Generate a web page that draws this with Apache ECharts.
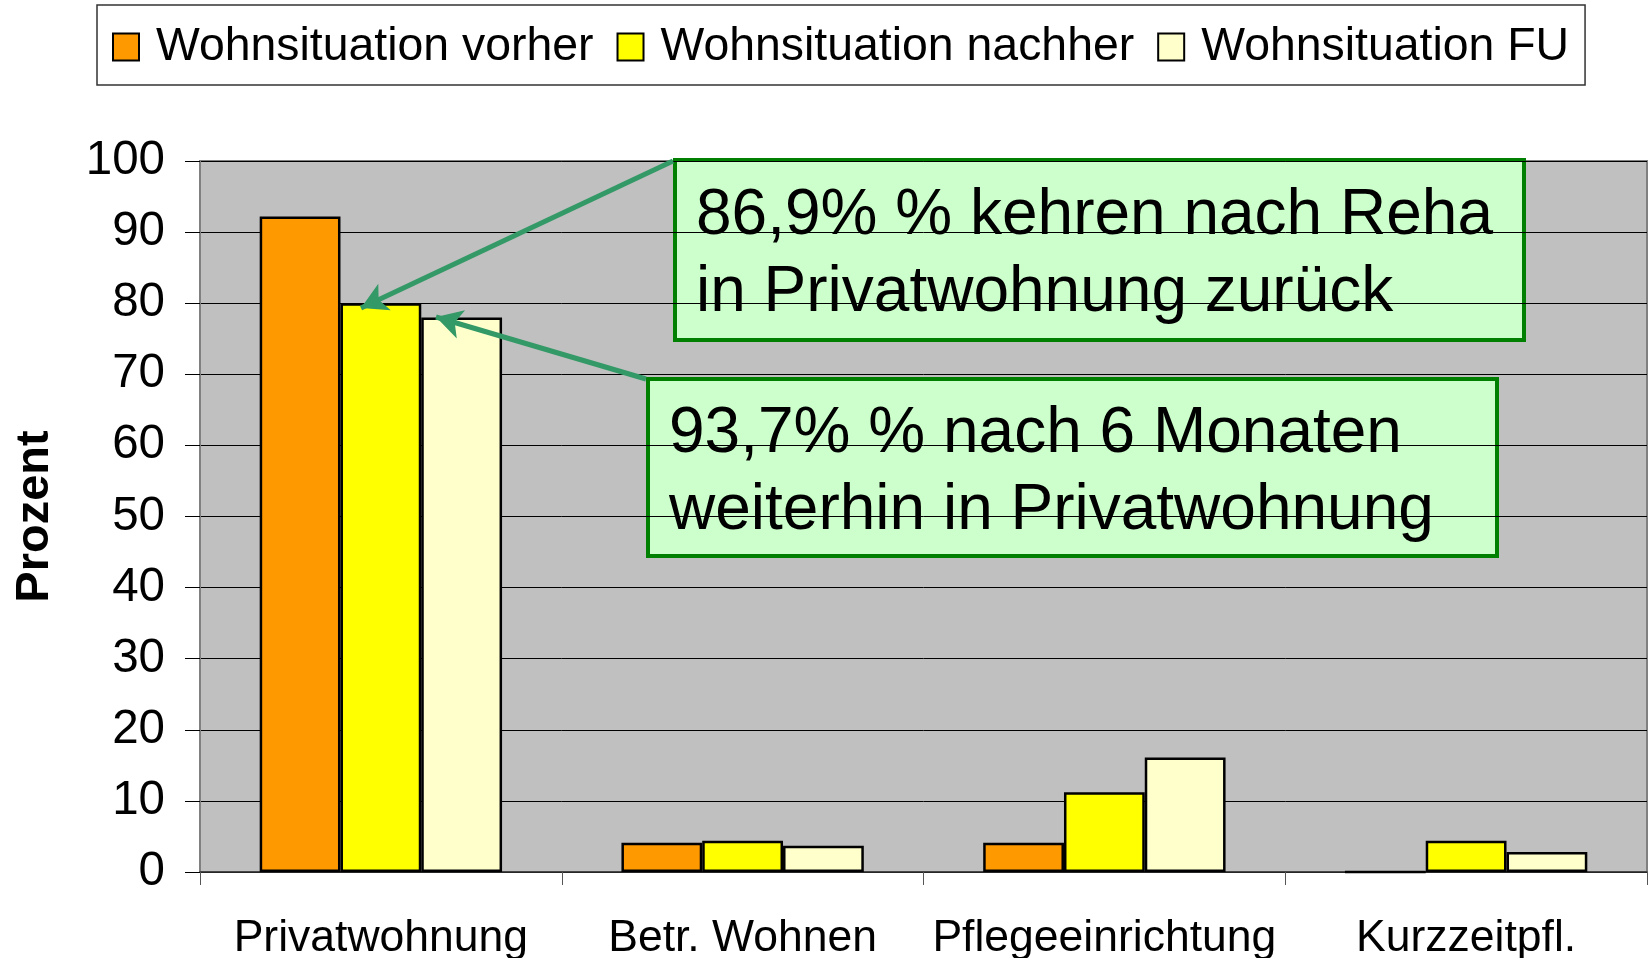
<!DOCTYPE html>
<html>
<head>
<meta charset="utf-8">
<script src="https://cdn.jsdelivr.net/npm/echarts@6/dist/echarts.min.js"></script>
<style>
  html, body { margin: 0; padding: 0; background: #fff; }
  #main { width: 1649px; height: 958px; }
</style>
</head>
<body>
<div id="main"></div>
<script>
// Wohnsituation in Prozent
var categories = ['Privatwohnung', 'Betr. Wohnen', 'Pflegeeinrichtung', 'Kurzzeitpfl.'];
var seriesNames = ['Wohnsituation vorher', 'Wohnsituation nachher', 'Wohnsituation FU'];
var vorher = [92.2, 4.1, 4.1, 0];
var nachher = [80.0, 4.4, 11.2, 4.4];
var fu = [78.0, 3.7, 16.1, 2.8];
var colors = ['#ff9900', '#ffff00', '#ffffcc'];

var note1 = '86,9% % kehren nach Reha\nin Privatwohnung zurück';
var note2 = '93,7% % nach 6 Monaten\nweiterhin in Privatwohnung';

var font = 'Arial, "Liberation Sans", sans-serif';
var myChart = echarts.init(document.getElementById('main'));

function bar(name, data, i) {
    return {
        name: name,
        type: 'bar',
        data: data,
        barGap: '0%',
        barCategoryGap: '33%',
        itemStyle: { color: colors[i], borderColor: '#000', borderWidth: 2.5 }
    };
}

var series = [bar(seriesNames[0], vorher, 0), bar(seriesNames[1], nachher, 1), bar(seriesNames[2], fu, 2)];
// Pfeile von den Textkästen zu den Balken
series[2].markLine = {
    silent: true,
    symbol: ['none', 'arrow'],
    symbolSize: [22, 26],
    label: { show: false },
    lineStyle: { color: '#339966', width: 5, type: 'solid' },
    data: [
        [{ x: 673, y: 161 }, { x: 361, y: 308 }],
        [{ x: 646, y: 379 }, { x: 436, y: 317 }]
    ]
};

myChart.setOption({
    animation: false,
    textStyle: { fontFamily: font },
    legend: {
        data: seriesNames,
        left: 97,
        top: 5,
        padding: [19, 16, 15, 15],
        itemGap: 23,
        itemWidth: 26,
        itemHeight: 27,
        icon: 'rect',
        borderColor: '#333',
        borderWidth: 1.5,
        backgroundColor: '#fff',
        itemStyle: { borderColor: '#000', borderWidth: 2 },
        textStyle: { fontSize: 46.4, color: '#000', fontFamily: font, padding: [0, 0, 0, 12] }
    },
    grid: {
        left: 200,
        right: 2,
        top: 161,
        bottom: 86,
        outerBoundsMode: 'none',
        show: true,
        backgroundColor: '#c0c0c0',
        borderColor: '#808080',
        borderWidth: 2
    },
    xAxis: {
        type: 'category',
        data: categories,
        axisLine: { lineStyle: { color: '#333', width: 1.5 } },
        axisTick: { show: true, interval: 0, length: 13, lineStyle: { color: '#555' } },
        axisLabel: { interval: 0, color: '#000', fontSize: 44.5, margin: 44, fontFamily: font }
    },
    yAxis: {
        type: 'value',
        min: 0,
        max: 100,
        interval: 10,
        name: 'Prozent',
        nameLocation: 'middle',
        nameGap: 141,
        nameTextStyle: { fontSize: 47, fontWeight: 'bold', color: '#000', fontFamily: font },
        axisLine: { show: true, lineStyle: { color: '#808080', width: 2 } },
        axisTick: { show: true, length: 15, lineStyle: { color: '#000' } },
        axisLabel: { color: '#000', fontSize: 47.5, margin: 35, padding: [8, 0, 0, 0], fontFamily: font },
        splitLine: { lineStyle: { color: '#000', width: 1 } }
    },
    series: series,
    graphic: [
        {
            type: 'group', z: 100,
            children: [
                { type: 'rect', shape: { x: 675, y: 160, width: 849, height: 180 },
                  style: { fill: '#ccffcc', stroke: '#008000', lineWidth: 4 } },
                { type: 'text', x: 696, y: 178,
                  style: { text: note1, font: '64px ' + font, lineHeight: 77, fill: '#000' } }
            ]
        },
        {
            type: 'group', z: 100,
            children: [
                { type: 'rect', shape: { x: 648, y: 379, width: 849, height: 177 },
                  style: { fill: '#ccffcc', stroke: '#008000', lineWidth: 4 } },
                { type: 'text', x: 669, y: 396,
                  style: { text: note2, font: '64px ' + font, lineHeight: 77, fill: '#000' } }
            ]
        }
    ]
});
</script>
</body>
</html>
